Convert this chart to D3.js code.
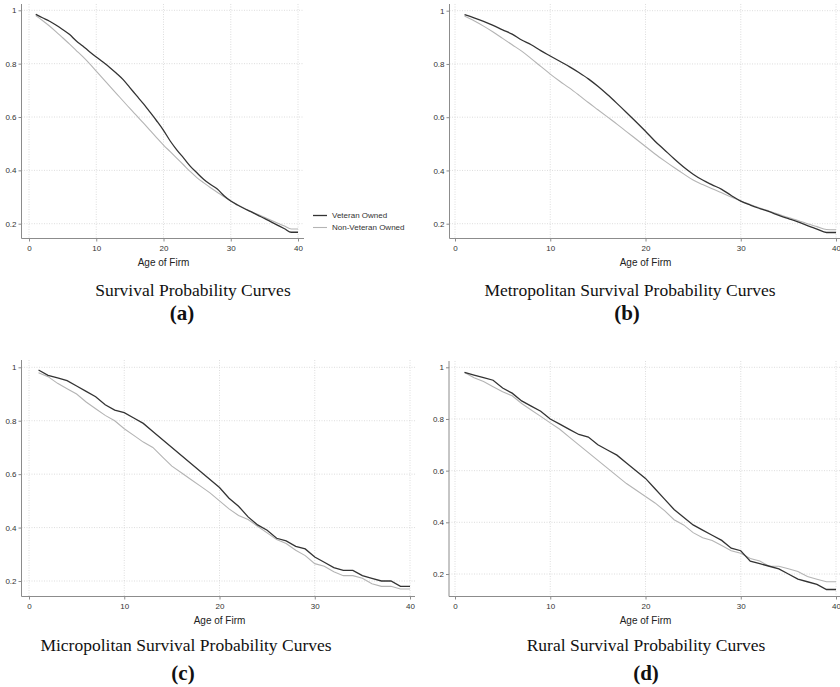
<!DOCTYPE html>
<html>
<head>
<meta charset="utf-8">
<script src="https://cdn.jsdelivr.net/npm/d3@7"></script>
<style>
  body { margin: 0; background: #fff; }
</style>
</head>
<body>
<svg id="chart" width="840" height="687" font-family="Arial, 'Liberation Sans', sans-serif"></svg>
<script>
// age of firm (years)
var ages = [1,2,3,4,5,6,7,8,9,10,11,12,13,14,15,16,17,18,19,20,
            21,22,23,24,25,26,27,28,29,30,31,32,33,34,35,36,37,38,39,40];

// (a) all firms
var vetAll = [.985,.972,.96,.945,.928,.91,.886,.866,.845,.825,.806,.786,.764,.74,.71,.68,.65,.618,.585,.55,
              .51,.476,.446,.415,.39,.366,.347,.33,.305,.285,.27,.257,.245,.232,.22,.207,.194,.181,.168,.168];
var nonVetAll = [.98,.962,.942,.92,.897,.874,.85,.826,.8,.772,.744,.716,.688,.66,.632,.605,.578,.55,.522,.495,
                 .47,.445,.42,.395,.372,.353,.335,.318,.301,.285,.271,.258,.246,.235,.224,.213,.202,.191,.18,.18];
// (b) metropolitan
var vetMetro = [.985,.973,.96,.945,.928,.912,.89,.872,.85,.83,.81,.79,.768,.744,.716,.685,.652,.618,.583,.547,
                .51,.477,.444,.413,.386,.364,.346,.329,.306,.285,.27,.257,.245,.231,.219,.207,.193,.18,.167,.167];
var nonVetMetro = [.98,.962,.942,.92,.896,.872,.848,.82,.791,.762,.735,.71,.683,.655,.628,.601,.574,.546,.518,.49,
                   .462,.436,.411,.387,.364,.347,.331,.316,.3,.285,.272,.259,.247,.235,.223,.212,.2,.189,.178,.177];
// (c) micropolitan
var vetMicro = [.99,.97,.96,.95,.93,.91,.89,.86,.84,.83,.81,.79,.76,.73,.70,.67,.64,.61,.58,.55,
                .51,.48,.44,.41,.39,.36,.35,.33,.32,.29,.27,.25,.24,.24,.22,.21,.20,.20,.18,.18];
var nonVetMicro = [.98,.965,.94,.92,.90,.87,.845,.82,.80,.77,.745,.72,.70,.665,.63,.605,.58,.555,.53,.50,
                   .47,.445,.43,.405,.38,.355,.34,.315,.295,.265,.255,.235,.22,.22,.21,.19,.18,.18,.17,.17];
// (d) rural
var vetRural = [.98,.97,.96,.95,.92,.90,.87,.85,.83,.80,.78,.76,.74,.73,.70,.68,.66,.63,.60,.57,
                .53,.49,.45,.42,.39,.37,.35,.33,.30,.29,.25,.24,.23,.22,.20,.18,.17,.16,.14,.14];
var nonVetRural = [.98,.96,.945,.925,.905,.89,.86,.835,.81,.785,.76,.73,.70,.67,.64,.61,.58,.55,.525,.50,
                   .475,.445,.41,.39,.36,.34,.33,.31,.29,.28,.26,.25,.23,.23,.22,.21,.19,.18,.17,.17];

var xTicks = [0, 10, 20, 30, 40];
var yTicks = [0.2, 0.4, 0.6, 0.8, 1];
var seriesNames = ["Veteran Owned", "Non-Veteran Owned"];
var titles = ["Survival Probability Curves", "Metropolitan Survival Probability Curves",
              "Micropolitan Survival Probability Curves", "Rural Survival Probability Curves"];
var tags = ["(a)", "(b)", "(c)", "(d)"];

var darkCol = "#333", lightCol = "#b4b4b4";
var serif = "'Liberation Serif', 'Times New Roman', serif";

var panels = [
  {vet: vetAll, non: nonVetAll, ax: 21.5, x0: 29, x40: 298, xEnd: 304, top: 4, axY: 238.5, y1: 10.3, y02: 223.7,
   tx: 193, ty: 296, gx: 182, gy: 320, curve: d3.curveMonotoneX, legend: true},
  {vet: vetMetro, non: nonVetMetro, ax: 449.5, x0: 455, x40: 836, xEnd: 842, top: 4, axY: 238.5, y1: 10.7, y02: 223.7,
   tx: 630, ty: 296, gx: 627, gy: 320, curve: d3.curveMonotoneX},
  {vet: vetMicro, non: nonVetMicro, ax: 21.5, x0: 29, x40: 410, xEnd: 415, top: 360, axY: 596.5, y1: 367.3, y02: 581,
   tx: 186, ty: 651, gx: 183, gy: 680, curve: d3.curveLinear},
  {vet: vetRural, non: nonVetRural, ax: 449, x0: 455, x40: 836, xEnd: 842, top: 361, axY: 596.5, y1: 367.3, y02: 574,
   tx: 646, ty: 651, gx: 646, gy: 680, curve: d3.curveLinear}
];

var svg = d3.select("#chart");

panels.forEach(function(p, i) {
  var x = d3.scaleLinear().domain([0, 40]).range([p.x0, p.x40]),
      y = d3.scaleLinear().domain([0.2, 1]).range([p.y02, p.y1]);
  var g = svg.append("g");

  // dotted grid
  g.selectAll(".vg").data(xTicks).enter().append("line")
    .attr("x1", d => x(d)).attr("x2", d => x(d))
    .attr("y1", p.top).attr("y2", p.axY)
    .attr("stroke", "#d4d4d4").attr("stroke-width", 0.8).attr("stroke-dasharray", "1,1.5");
  g.selectAll(".hg").data(yTicks).enter().append("line")
    .attr("x1", p.ax).attr("x2", p.xEnd)
    .attr("y1", d => y(d)).attr("y2", d => y(d))
    .attr("stroke", "#d4d4d4").attr("stroke-width", 0.8).attr("stroke-dasharray", "1,1.5");

  // axes
  var yAxis = d3.axisLeft(y).tickValues(yTicks).tickSize(3).tickSizeOuter(0)
    .tickFormat(d => d === 1 ? "1" : d.toFixed(1));
  var ya = g.append("g").attr("transform", "translate(" + p.ax + ",0)").call(yAxis);
  var xAxis = d3.axisBottom(x).tickValues(xTicks).tickSize(3).tickSizeOuter(0);
  var xa = g.append("g").attr("transform", "translate(0," + p.axY + ")").call(xAxis);
  [ya, xa].forEach(function(a) {
    a.attr("font-family", null).attr("font-size", null);
    a.select(".domain").remove();
    a.selectAll(".tick line").attr("stroke", "#8c8c8c");
    a.selectAll(".tick text").attr("font-size", 8).attr("fill", "#333");
  });
  ya.selectAll(".tick text").attr("x", -5);
  xa.selectAll(".tick text").attr("y", 7);
  g.append("line").attr("x1", p.ax).attr("x2", p.ax).attr("y1", p.top).attr("y2", p.axY)
    .attr("stroke", "#8c8c8c").attr("stroke-width", 1);
  g.append("line").attr("x1", p.ax).attr("x2", p.xEnd).attr("y1", p.axY).attr("y2", p.axY)
    .attr("stroke", "#8c8c8c").attr("stroke-width", 1);

  g.append("text").attr("x", x(20)).attr("y", p.axY + 27).attr("text-anchor", "middle")
    .attr("font-size", 10).attr("fill", "#222").text("Age of Firm");

  // survival curves
  var line = d3.line().curve(p.curve)
    .x(function(d, k) { return x(ages[k]); })
    .y(function(d) { return y(d); });
  g.append("path").datum(p.non).attr("d", line).attr("fill", "none")
    .attr("stroke", lightCol).attr("stroke-width", 1.1);
  g.append("path").datum(p.vet).attr("d", line).attr("fill", "none")
    .attr("stroke", darkCol).attr("stroke-width", 1.3);

  // titles
  g.append("text").attr("x", p.tx).attr("y", p.ty).attr("text-anchor", "middle")
    .attr("font-family", serif).attr("font-size", 17.5)
    .attr("fill", "#111").text(titles[i]);
  g.append("text").attr("x", p.gx).attr("y", p.gy).attr("text-anchor", "middle")
    .attr("font-family", serif).attr("font-size", 21)
    .attr("font-weight", "bold").attr("fill", "#111").text(tags[i]);

  if (p.legend) {
    var lg = g.append("g").attr("transform", "translate(313,215.5)");
    seriesNames.forEach(function(n, k) {
      lg.append("line").attr("x1", 0).attr("x2", 14).attr("y1", k * 12).attr("y2", k * 12)
        .attr("stroke", k === 0 ? darkCol : lightCol).attr("stroke-width", k === 0 ? 1.3 : 1.1);
      lg.append("text").attr("x", 19).attr("y", k * 12).attr("dy", "0.35em")
        .attr("font-size", 8).attr("fill", "#333").text(n);
    });
  }
});
</script>
</body>
</html>
